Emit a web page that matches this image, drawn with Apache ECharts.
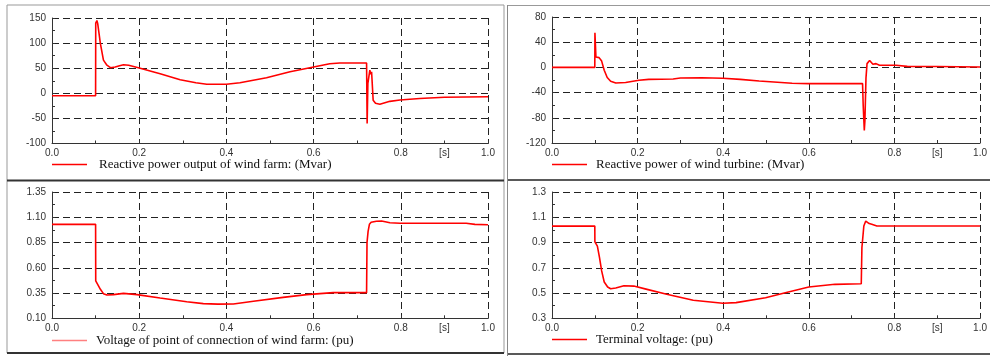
<!DOCTYPE html>
<html>
<head>
<meta charset="utf-8">
<script src="https://cdn.jsdelivr.net/npm/echarts@6/dist/echarts.min.js"></script>
<style>
  html, body { margin: 0; padding: 0; background: #fff; }
  #main { width: 990px; height: 356px; }
</style>
</head>
<body>
<div id="main"></div>
<script>
// reactive power output of wind farm (Mvar)
const qFarmT = [0, 0.1, 0.1003, 0.103, 0.105, 0.111, 0.118, 0.126, 0.134, 0.145, 0.155, 0.164, 0.176, 0.198, 0.248, 0.294, 0.33, 0.355, 0.4, 0.431, 0.492, 0.546, 0.6, 0.637, 0.66, 0.7215, 0.7228, 0.7245, 0.729, 0.731, 0.733, 0.7366, 0.742, 0.752, 0.775, 0.798, 0.8435, 0.9, 1.0];
const qFarmV = [-5, -5, 140, 145, 138, 99, 66, 56, 51, 52.5, 55, 57, 56, 51, 39, 27, 21, 18, 18, 21, 31, 43, 52.5, 59, 60.5, 60.5, -60, 20, 46, 38, 43, -14, -20, -22, -16, -13.5, -10.5, -8, -7];

// reactive power of wind turbine (Mvar)
const qWtT = [0, 0.1, 0.1003, 0.1026, 0.106, 0.11, 0.113, 0.116, 0.122, 0.129, 0.137, 0.149, 0.172, 0.203, 0.226, 0.283, 0.3, 0.35, 0.399, 0.44, 0.484, 0.561, 0.6, 0.7255, 0.727, 0.7296, 0.731, 0.7335, 0.736, 0.742, 0.7497, 0.757, 0.765, 0.8035, 0.83, 0.9, 1.0];
const qWtV = [0, 0, 55, 16.5, 14, 15.5, 14, 10, -4.6, -16, -22, -24.7, -24, -20.5, -19, -18.4, -16.8, -16.5, -17.3, -19, -21.5, -25.2, -25.7, -25.7, -60, -100, -85, -17, 6, 11, 5, 6, 3.3, 3.3, 1.7, 1.5, 0.7];

// voltage of point of connection of wind farm (pu)
const vPccT = [0, 0.1, 0.1003, 0.103, 0.111, 0.118, 0.126, 0.141, 0.164, 0.195, 0.248, 0.309, 0.347, 0.38, 0.416, 0.462, 0.53, 0.584, 0.645, 0.7215, 0.7225, 0.725, 0.728, 0.732, 0.744, 0.756, 0.775, 0.798, 0.95, 0.97, 1.0];
const vPccV = [1.03, 1.03, 0.47, 0.452, 0.387, 0.344, 0.33, 0.334, 0.347, 0.334, 0.301, 0.264, 0.245, 0.24, 0.242, 0.268, 0.307, 0.334, 0.354, 0.354, 0.85, 0.96, 1.03, 1.05, 1.06, 1.063, 1.046, 1.04, 1.04, 1.03, 1.026];

// terminal voltage (pu)
const vTermT = [0, 0.1, 0.1002, 0.106, 0.111, 0.116, 0.122, 0.13, 0.137, 0.149, 0.168, 0.191, 0.222, 0.268, 0.33, 0.399, 0.43, 0.499, 0.545, 0.6, 0.661, 0.7225, 0.724, 0.7285, 0.733, 0.737, 0.741, 0.747, 0.759, 1.0];
const vTermV = [1.03, 1.03, 0.905, 0.872, 0.78, 0.675, 0.587, 0.548, 0.534, 0.54, 0.558, 0.555, 0.529, 0.49, 0.443, 0.419, 0.424, 0.463, 0.503, 0.548, 0.569, 0.574, 0.859, 1.031, 1.07, 1.056, 1.05, 1.044, 1.031, 1.031];

const names = [
  'Reactive power output of wind farm: (Mvar)',
  'Reactive power of wind turbine: (Mvar)',
  'Voltage of point of connection of wind farm: (pu)',
  'Terminal voltage: (pu)',
];

const zip = (t, v) => t.map((x, i) => [x, v[i]]);

const labelFont = { fontFamily: '"Liberation Sans", Arial, sans-serif', fontSize: 10, color: '#333' };
const gridDash = { type: [7, 4], color: '#222', width: 1 };

const grids = [
  { left: 52, top: 18, width: 436, height: 125.5 },
  { left: 552, top: 17, width: 433, height: 126 },
  { left: 52, top: 192, width: 436, height: 126.3 },
  { left: 552, top: 192, width: 433, height: 126.3 },
];

const yRanges = [
  { min: -100, max: 150, interval: 50, fmt: (v) => String(Math.round(v)) },
  { min: -120, max: 80, interval: 40, fmt: (v) => String(Math.round(v)) },
  { min: 0.1, max: 1.35, interval: 0.25, fmt: (v) => v.toFixed(2) },
  { min: 0.3, max: 1.3, interval: 0.2, fmt: (v) => v.toFixed(1) },
];

const xAxes = [];
const yAxes = [];
grids.forEach((g, i) => {
  // main time axis with grid lines
  xAxes.push({
    type: 'value', gridIndex: i, min: 0, max: 1, interval: 0.2,
    axisLine: { onZero: false, lineStyle: { color: '#333', width: 1 } },
    axisTick: { inside: true, length: 3, lineStyle: { color: '#333' } },
    minorTick: { show: true, splitNumber: 2, length: 3, lineStyle: { color: '#333' } },
    splitLine: { show: true, lineStyle: gridDash },
    axisLabel: Object.assign({ margin: 5, formatter: (v) => v.toFixed(1) }, labelFont),
  });
  // unit label "[s]"
  xAxes.push({
    type: 'value', gridIndex: i, min: 0, max: 1, interval: 0.1, position: 'bottom',
    axisLine: { show: false, onZero: false }, axisTick: { show: false }, splitLine: { show: false },
    axisLabel: Object.assign({ margin: 5, formatter: (v) => (Math.abs(v - 0.9) < 1e-6 ? '[s]' : '') }, labelFont),
  });
  const r = yRanges[i];
  yAxes.push({
    type: 'value', gridIndex: i, min: r.min, max: r.max, interval: r.interval,
    axisLine: { show: true, onZero: false, lineStyle: { color: '#333', width: 1 } },
    axisTick: { show: true, inside: true, length: 3, lineStyle: { color: '#333' } },
    minorTick: { show: true, splitNumber: 2, length: 3, lineStyle: { color: '#333' } },
    splitLine: { show: true, lineStyle: gridDash },
    axisLabel: Object.assign({ margin: 6, formatter: r.fmt }, labelFont),
  });
});

const seriesData = [zip(qFarmT, qFarmV), zip(qWtT, qWtV), zip(vPccT, vPccV), zip(vTermT, vTermV)];

const series = seriesData.map((d, i) => ({
  name: names[i],
  type: 'line',
  xAxisIndex: i * 2,
  yAxisIndex: i,
  showSymbol: false,
  symbol: 'none',
  lineStyle: { color: '#ff0000', width: 1.6 },
  itemStyle: { color: '#ff0000' },
  data: d,
}));

const legendPos = [
  { left: 52, top: 158 },
  { left: 552, top: 158 },
  { left: 52, top: 334 },
  { left: 552, top: 333 },
];
const legends = legendPos.map((p, i) => ({
  left: p.left, top: p.top, padding: 0,
  icon: 'rect', itemWidth: 35, itemHeight: 1.5,
  data: [{ name: names[i], itemStyle: { color: i === 2 ? '#ff8080' : '#ff0000' } }],
  textStyle: { fontFamily: '"Liberation Serif", "Times New Roman", serif', fontSize: 13, color: '#111', padding: [0, 0, 0, i === 0 ? 7 : 4] },
  selectedMode: false,
}));

const chart = echarts.init(document.getElementById('main'));
chart.setOption({
  animation: false,
  backgroundColor: '#fff',
  grid: grids,
  xAxis: xAxes,
  yAxis: yAxes,
  legend: legends,
  series: series,
  graphic: [
    // panel frames
    { type: 'rect', shape: { x: 7, y: 5, width: 497, height: 348 }, style: { fill: null, stroke: '#999', lineWidth: 1 } },
    { type: 'line', shape: { x1: 7, y1: 180.5, x2: 504, y2: 180.5 }, style: { stroke: '#333', lineWidth: 2 } },
    { type: 'line', shape: { x1: 7, y1: 353, x2: 504, y2: 353 }, style: { stroke: '#333', lineWidth: 2 } },
    { type: 'line', shape: { x1: 507.5, y1: 5, x2: 507.5, y2: 356 }, style: { stroke: '#888', lineWidth: 1 } },
    { type: 'line', shape: { x1: 508, y1: 5.5, x2: 990, y2: 5.5 }, style: { stroke: '#999', lineWidth: 1 } },
    { type: 'line', shape: { x1: 508, y1: 180, x2: 990, y2: 180 }, style: { stroke: '#222', lineWidth: 1.5 } },
    { type: 'line', shape: { x1: 508, y1: 354, x2: 990, y2: 354 }, style: { stroke: '#222', lineWidth: 1.5 } },
  ],
});
</script>
</body>
</html>
